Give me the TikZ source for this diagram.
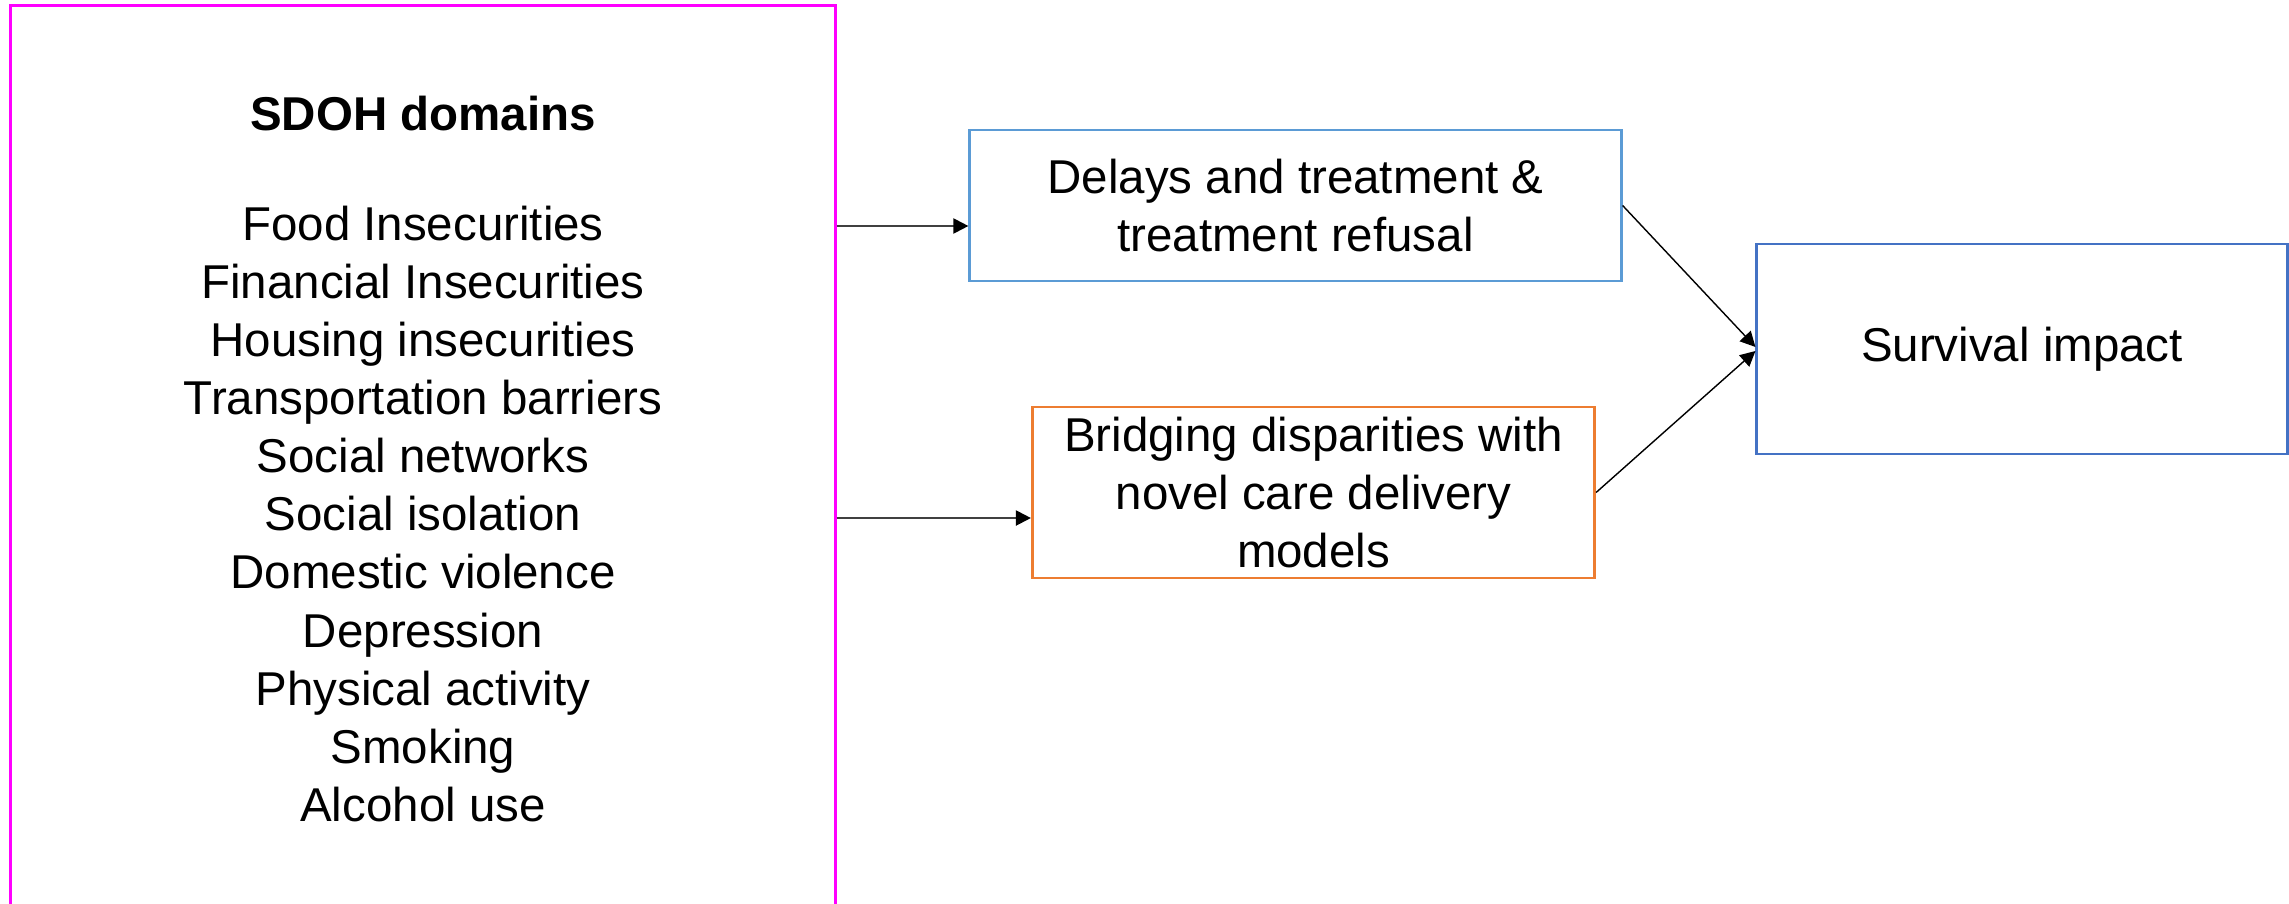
\documentclass[tikz,border=0pt]{standalone}
\usepackage{fontspec}
\setmainfont{Liberation Sans}
\usetikzlibrary{arrows.meta,positioning}

\definecolor{sdohpink}{HTML}{FF00FF}
\definecolor{delayblue}{HTML}{5B9BD5}
\definecolor{survblue}{HTML}{4472C4}
\definecolor{bridgeorange}{HTML}{ED7D31}
\definecolor{feedgray}{HTML}{404040}

\newcommand{\fs}{\fontsize{13.5}{16.5}\selectfont}

\tikzset{
	box/.style={draw, line width=0.8pt, inner sep=0pt, align=center, font=\fs},
	tip/.style={-{Triangle[length=4.3pt, width=4.3pt, color=black]}},
	feed/.style={tip, draw=feedgray, line width=0.6pt},
	merge/.style={tip, draw=black, line width=0.4pt}
}

\begin{document}
\begin{tikzpicture}[x=0.01cm, y=-0.01cm]
	\useasboundingbox (0,0) rectangle (2289,904);

	\node[box, draw=sdohpink, line width=0.75pt, minimum width=8.24cm, minimum height=9.8cm] (sdoh) at (423,496) {};
	\node[font=\fs\bfseries] (title) at (423,114) {SDOH domains};
	\node[font=\fs, align=center] (list) at (423,514) {Food Insecurities\\Financial Insecurities\\Housing insecurities\\Transportation barriers\\Social networks\\Social isolation\\Domestic violence\\Depression\\Physical activity\\Smoking\\Alcohol use};

	\node[box, draw=delayblue, minimum width=6.51cm, minimum height=1.51cm] (delay) at (1295.5,205.5) {Delays and treatment \&\\treatment refusal};
	\node[box, draw=bridgeorange, minimum width=5.62cm, minimum height=1.71cm] (bridge) at (1313.5,492.5) {Bridging disparities with\\novel care delivery\\models};
	\node[box, draw=survblue, minimum width=5.30cm, minimum height=2.10cm] (survival) at (2022,349) {Survival impact};

	\coordinate (delayin) at ([yshift=-0.205cm]delay.west);
	\coordinate (bridgein) at ([yshift=-0.255cm]bridge.west);

	\draw[feed] (sdoh.east |- delayin) -- (delayin);
	\draw[feed] (sdoh.east |- bridgein) -- (bridgein);
	\draw[merge] (delay.east) -- ([yshift=0.02cm]survival.west);
	\draw[merge] (bridge.east) -- ([yshift=-0.02cm]survival.west);
\end{tikzpicture}
\end{document}
